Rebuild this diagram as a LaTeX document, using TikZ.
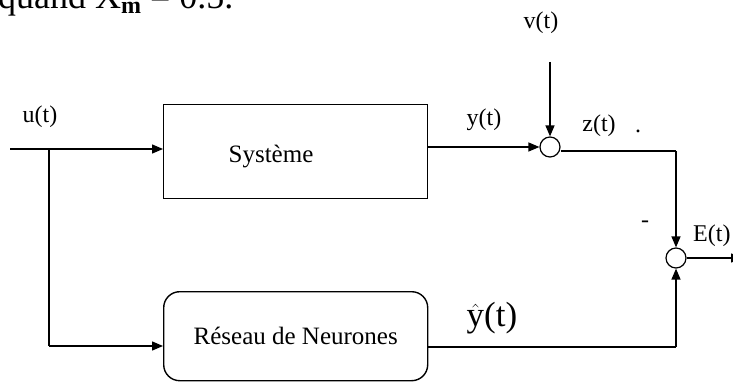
\documentclass[tikz,border=0pt]{standalone}
\usepackage{fontspec}
\setmainfont{Liberation Serif}
\usetikzlibrary{arrows.meta}
\begin{document}
\begin{tikzpicture}[x=1pt,y=-1pt,
  lbl/.style={inner sep=0pt, font=\fontsize{24}{28}\selectfont},
  blk/.style={draw, line width=1.4pt, minimum width=264pt, inner sep=0pt, font=\fontsize{25}{28}\selectfont},
  sumc/.style={draw, circle, line width=1.2pt, minimum size=20pt, inner sep=0pt},
  wire/.style={line width=1.3pt},
  arr/.style={wire, -{Triangle[length=11pt,width=9pt]}}]
\useasboundingbox (0,0) rectangle (733,382);
\clip (0,0) rectangle (733,382);
% cropped text at top
\node[inner sep=0pt, anchor=base west, font=\fontsize{36}{40}\selectfont] (top) at (-2,9)
  {quand X\raisebox{-5pt}{\fontsize{24}{26}\selectfont\bfseries m} = 0.5.};
% blocks
\node[blk, anchor=north west, minimum height=94pt] (sys) at (163,104) {};
\node[lbl, font=\fontsize{25}{28}\selectfont] (systxt) at (271,157) {Système};
\node[blk, rounded corners=16pt, anchor=north west, minimum height=89pt] (nn) at (163,291) {Réseau de Neurones};
% summing junctions
\node[sumc] (s1) at (550,147) {};
\node[sumc] (s2) at (676,258) {};
% coordinates
\coordinate (in) at (10,149);
\coordinate (br) at (49,149);
\coordinate (bl) at (49,346);
\coordinate (vtop) at (550,62);
\coordinate (c1) at (676,151);
\coordinate (c2) at (676,347);
\coordinate (out) at (742,258);
% connectors
\draw[wire] (in) -- (br);
\draw[arr] (br) -- (sys.west |- br);
\draw[wire] (br) -- (bl);
\draw[arr] (bl) -- (nn.west |- bl);
\draw[arr] (sys.east |- s1) -- (s1.west);
\draw[arr] (vtop) -- (s1.north);
\draw[wire] (s1.east |- c1) -- (c1);
\draw[arr] (c1) -- (s2.north);
\draw[wire] (nn.east |- c2) -- (c2);
\draw[arr] (c2) -- (s2.south);
\draw[arr] (s2.east) -- (out);
% labels
\node[lbl] (ul) at (40,117) {u(t)};
\node[lbl] (yl) at (484,120) {y(t)};
\node[lbl] (vl) at (541,23) {v(t)};
\node[lbl] (zl) at (599,126) {z(t)};
\node[lbl] (zdot) at (638,131) {.};
\node[lbl] (minus) at (645,224) {-};
\node[lbl, anchor=west] (el) at (693,236) {E(t)};
\node[lbl, font=\fontsize{35}{38}\selectfont] (yh) at (492,318) {$\hat{\mathrm{y}}$(t)};
\end{tikzpicture}
\end{document}
